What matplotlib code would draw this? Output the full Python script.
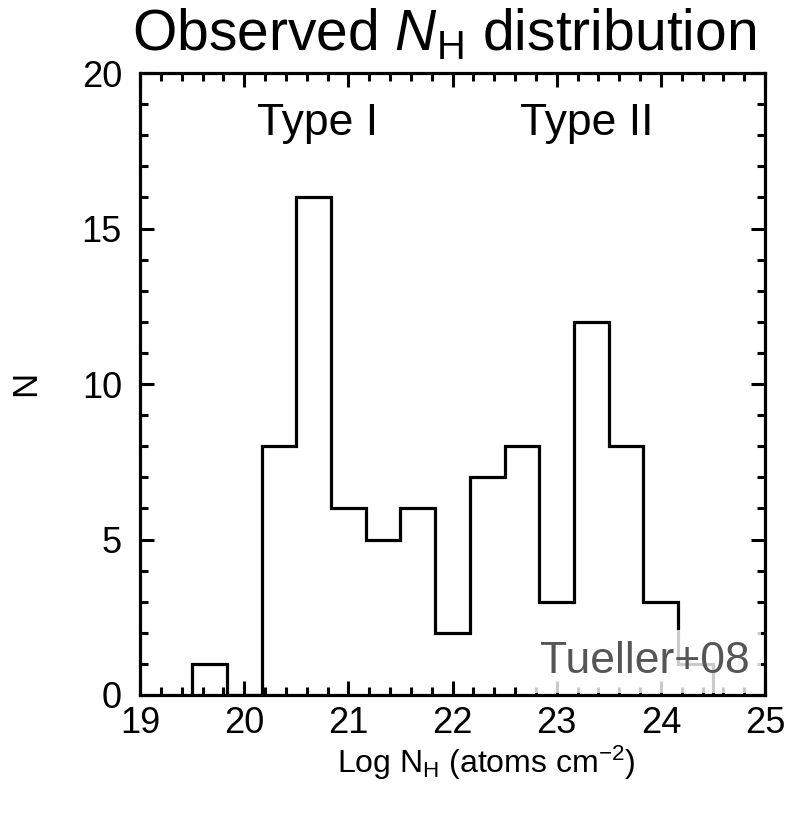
import matplotlib
matplotlib.use("Agg")
import matplotlib.pyplot as plt
from matplotlib.ticker import MultipleLocator

# bin edges (log N_H) and counts per bin
BIN_EDGES = [19.5, 19.833, 20.167, 20.5, 20.833, 21.167, 21.5, 21.833,
             22.167, 22.5, 22.833, 23.167, 23.5, 23.833, 24.167, 24.5]
COUNTS = [1, 0, 8, 16, 6, 5, 6, 2, 7, 8, 3, 12, 8, 3, 1]
X_TICKS = [19, 20, 21, 22, 23, 24, 25]
Y_TICKS = [0, 5, 10, 15, 20]

plt.rcParams["font.family"] = ["Liberation Sans", "DejaVu Sans"]
plt.rcParams["mathtext.fontset"] = "custom"
plt.rcParams["mathtext.rm"] = "Liberation Sans"
plt.rcParams["mathtext.it"] = "Liberation Sans:italic"

W, H = 794, 817
fig = plt.figure(figsize=(W / 100, H / 100), dpi=100)
ax = fig.add_axes([140 / W, 1 - 695 / H, 625 / W, 622 / H])

ax.stairs(COUNTS, BIN_EDGES, color="black", linewidth=2.3, baseline=0)

ax.set_xlim(19, 25)
ax.set_ylim(0, 20)
ax.set_xticks(X_TICKS)
ax.set_yticks(Y_TICKS)
ax.xaxis.set_minor_locator(MultipleLocator(0.2))
ax.yaxis.set_minor_locator(MultipleLocator(1))
ax.tick_params(which="both", direction="in", top=True, right=True,
               width=2.2, labelsize=26)
ax.tick_params(which="major", length=10)
ax.tick_params(which="minor", length=6)
ax.tick_params(axis="x", pad=8)
ax.tick_params(axis="y", pad=13)
for s in ax.spines.values():
    s.set_linewidth(2.3)

# axis labels
fig.text(337 / W, 1 - 773 / H, r"Log N$_{\mathrm{H}}$ (atoms cm$^{-2}$)",
         fontsize=23, ha="left", va="baseline")
fig.text(26 / W, 1 - 383 / H, "N", fontsize=25, rotation=90,
         ha="center", va="center")

ax.text(20.70, 18.0, "Type I", fontsize=32, ha="center", va="baseline")
ax.text(23.29, 18.0, "Type II", fontsize=32, ha="center", va="baseline")
ax.text(24.856, 0.71, "Tueller+08", fontsize=32, color="#555555",
        ha="right", va="baseline",
        bbox=dict(boxstyle="square,pad=0.25", facecolor="white",
                  edgecolor="none", alpha=0.8))

fig.text(444 / W, 1 - 50 / H, r"Observed $N_{\mathrm{H}}$ distribution",
         fontsize=41, ha="center", va="baseline")

fig.savefig("out.png", dpi=100)
